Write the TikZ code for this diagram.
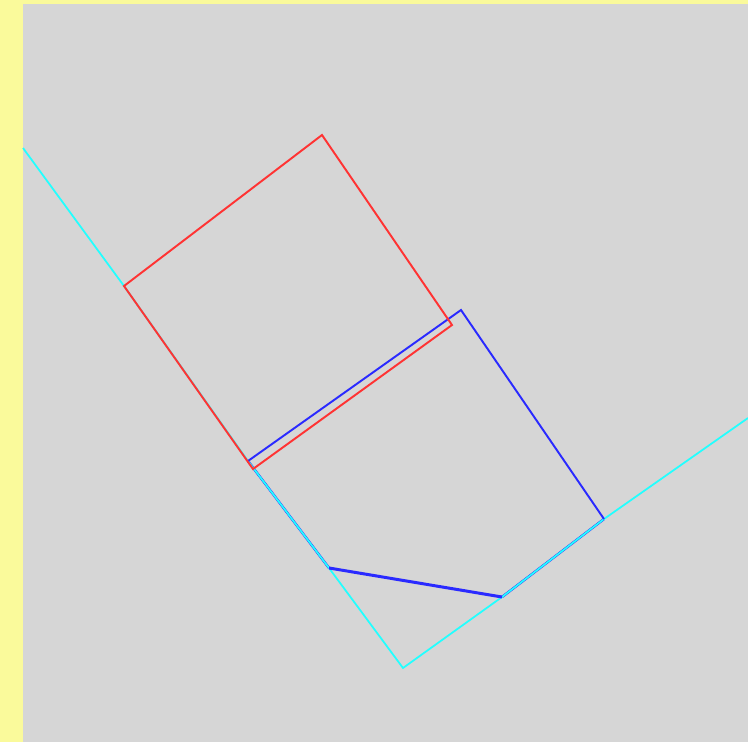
\documentclass[tikz,border=0pt]{standalone}
\usepackage{xcolor}
\usepackage{tikz}
\definecolor{bgGray}{HTML}{D6D6D6}
\definecolor{edgeYellow}{HTML}{FAFA9B}
\definecolor{lineCyan}{HTML}{22FFFF}
\definecolor{boxRed}{HTML}{FF3333}
\definecolor{boxBlue}{HTML}{2A2AFF}
\begin{document}
\begin{tikzpicture}[x=0.01cm,y=-0.01cm,
  redbox/.style={draw=boxRed,line width=0.55pt,line join=miter},
  bluebox/.style={draw=boxBlue,line width=0.55pt,line join=miter},
  cyanline/.style={draw=lineCyan,line width=0.5pt}]
% frame
\fill[edgeYellow] (0,0) rectangle (748,742);
\fill[bgGray] (23,4) rectangle (748,742);
\useasboundingbox (0,0) rectangle (748,742);
% corners
\coordinate (r1) at (124,286);
\coordinate (r2) at (322,135);
\coordinate (r3) at (452,325);
\coordinate (r4) at (253,469);
\coordinate (b1) at (248,461);
\coordinate (b2) at (461,310);
\coordinate (b3) at (604,519);
\coordinate (b4) at (502,597);
\coordinate (b5) at (329,568);
% blue box, partly hidden under the cyan
\draw[bluebox,line width=0.7pt] (b1) -- (b5) (b4) -- (b3);
% cyan lines
\coordinate (c1) at (23,148);
\coordinate (c2) at (403,668);
\coordinate (c3) at (748,418);
\draw[cyanline] (c1) -- (r1) -- (b1) -- (b5) -- (c2) -- (b4) -- (b3) -- (c3);
\draw[bluebox] (b1) -- (b2) -- (b3);
\draw[boxBlue,line width=0.85pt] (b5) -- (b4);
% red box
\draw[redbox] (r1) -- (r2) -- (r3) -- (r4) -- cycle;
\end{tikzpicture}
\end{document}
